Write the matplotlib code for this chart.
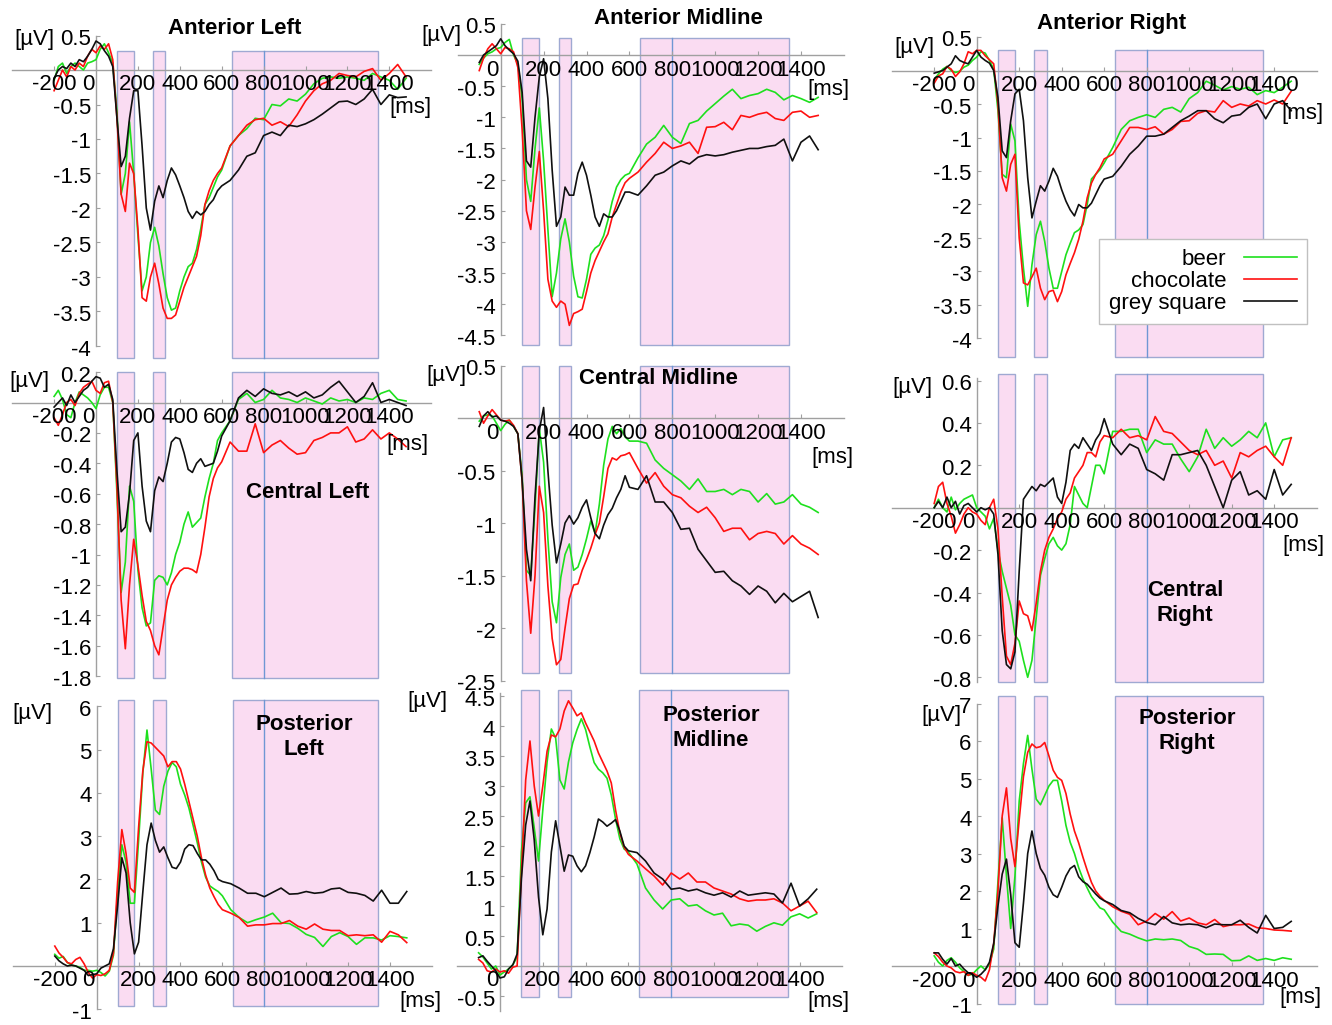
import matplotlib.pyplot as plt
import matplotlib.transforms as mtransforms
from matplotlib.patches import Rectangle

plt.rcParams['font.family'] = ['Liberation Sans', 'DejaVu Sans']

W, H = 1332, 1025
GREEN, RED, BLACK = '#1ee01e', '#ff1010', '#101010'
PINK, EDGE, VLINE = '#fadcf2', '#9fa9d2', '#6f97d4'

# time points (ms): left/right sites start at -200, midline sites at -100
t_side = list(range(-200, 601, 20)) + list(range(640, 1481, 40))
t_mid = list(range(-100, 601, 20)) + list(range(640, 1481, 40))

# analysis windows (ms)
windows = [(100, 180), (270, 330), (650, 1345)]
vline_ms = 800

xt_side = [-200, 0, 200, 400, 600, 800, 1000, 1200, 1400]
xt_mid = [0, 200, 400, 600, 800, 1000, 1200, 1400]

labels = ['beer', 'chocolate', 'grey square']

# ---------------- Anterior Left ----------------
AL_beer = [-0.15, 0.05, 0.1, -0.05, 0.05, 0.1, 0.05, 0.0, 0.1, 0.12,
           0.15, 0.3, 0.38, 0.25, 0.1, -0.6, -1.8, -1.5, -0.75, -1.5,
           -2.4, -3.2, -3.0, -2.5, -2.28, -2.55, -2.95, -3.3, -3.48, -3.45,
           -3.2, -3.0, -2.85, -2.8, -2.6, -2.3, -1.95, -1.85, -1.7, -1.55,
           -1.45,
           -1.1, -0.95, -0.85, -0.7, -0.72, -0.5, -0.52, -0.42, -0.45, -0.35, -0.2,
           -0.12, -0.1, -0.12, -0.1, -0.12, -0.15, -0.05, -0.1, -0.15, -0.28, -0.12]
AL_choc = [-0.3, -0.15, 0.0, -0.1, 0.05, 0.0, 0.1, 0.05, 0.2, 0.3,
           0.25, 0.35, 0.3, 0.38, 0.15, -0.7, -1.8, -2.05, -1.35, -1.5,
           -2.3, -3.3, -3.35, -3.0, -2.8, -3.1, -3.45, -3.6, -3.6, -3.55,
           -3.35, -3.15, -3.0, -2.85, -2.7, -2.4, -1.95, -1.75, -1.6, -1.5,
           -1.42,
           -1.1, -0.95, -0.8, -0.72, -0.7, -0.8, -0.75, -0.82, -0.65, -0.45, -0.3,
           -0.2, -0.15, -0.05, -0.08, -0.1, -0.02, 0.02, -0.15, -0.05, 0.08, -0.1]
AL_grey = [-0.12, 0.0, 0.05, 0.02, 0.1, 0.05, 0.15, 0.12, 0.2, 0.3,
           0.42, 0.38, 0.28, 0.2, 0.05, -0.7, -1.4, -1.25, -0.7, -0.3,
           -0.3, -1.1, -2.0, -2.32, -1.9, -1.68, -1.85, -1.6, -1.42, -1.52,
           -1.68, -1.85, -2.05, -2.15, -2.05, -2.1, -2.05, -1.95, -1.88, -1.75,
           -1.68,
           -1.6, -1.45, -1.25, -1.2, -0.95, -0.9, -0.95, -0.8, -0.82, -0.78, -0.72,
           -0.64, -0.55, -0.46, -0.45, -0.5, -0.42, -0.28, -0.5, -0.36, -0.4, -0.39]

# ---------------- Anterior Midline ----------------
AM_beer = [-0.15, -0.05, 0.02, 0.05, 0.1,
           0.12, 0.2, 0.25, 0.0, -0.15, -0.7, -2.0, -2.35, -1.5, -0.85,
           -1.7, -2.8, -3.88, -3.5, -2.95, -2.63, -3.0, -3.55, -3.88, -3.9,
           -3.6, -3.2, -3.1, -3.05, -2.9, -2.65, -2.35, -2.12, -2.0, -1.93,
           -1.9,
           -1.65, -1.43, -1.32, -1.13, -1.32, -1.42, -1.1, -1.05, -0.9, -0.78, -0.66,
           -0.55, -0.7, -0.65, -0.62, -0.55, -0.6, -0.72, -0.65, -0.7, -0.76, -0.68]
AM_choc = [-0.25, -0.05, 0.1, 0.18, 0.1,
           0.02, 0.12, 0.1, 0.05, -0.2, -1.2, -2.5, -2.8, -2.12, -1.55,
           -2.5, -3.6, -3.95, -4.05, -3.95, -4.0, -4.34, -4.15, -4.12, -4.08,
           -3.8, -3.5, -3.3, -3.15, -3.0, -2.87, -2.6, -2.4, -2.2, -2.05,
           -1.98,
           -1.88, -1.72, -1.58, -1.4, -1.5, -1.46, -1.4, -1.58, -1.16, -1.15, -1.08,
           -1.2, -0.97, -1.0, -0.95, -0.92, -1.02, -1.05, -0.92, -0.9, -1.0, -0.97]
AM_grey = [-0.12, 0.0, 0.05, 0.1, 0.15,
           0.26, 0.15, 0.08, 0.02, -0.1, -0.6, -1.7, -1.8, -1.0, -0.35,
           -0.06, -0.7, -1.85, -2.75, -2.6, -2.12, -2.25, -2.25, -1.9, -1.72,
           -1.93, -2.25, -2.6, -2.75, -2.55, -2.6, -2.6, -2.5, -2.35, -2.2,
           -2.2,
           -2.25, -2.1, -1.93, -1.88, -1.78, -1.7, -1.75, -1.64, -1.6, -1.62, -1.6,
           -1.56, -1.53, -1.5, -1.5, -1.47, -1.45, -1.35, -1.7, -1.4, -1.3, -1.52]

# ---------------- Anterior Right ----------------
AR_beer = [-0.14, -0.05, 0.02, 0.06, 0.0, -0.03, -0.01, 0.05, 0.08, 0.15,
           0.2, 0.28, 0.26, 0.15, 0.02, -0.6, -1.55, -1.6, -0.8, -1.05,
           -2.25, -2.95, -3.52, -2.9, -2.45, -2.25, -2.55, -2.95, -3.25, -3.25,
           -3.0, -2.75, -2.58, -2.42, -2.38, -2.3, -2.0, -1.62, -1.55, -1.48,
           -1.38,
           -1.15, -0.88, -0.75, -0.7, -0.66, -0.7, -0.58, -0.55, -0.62, -0.42, -0.33,
           -0.16, -0.22, -0.29, -0.24, -0.28, -0.25, -0.36, -0.3, -0.33, -0.25, -0.16]
AR_choc = [-0.19, -0.08, -0.05, 0.06, 0.02, -0.09, -0.02, 0.1, 0.28, 0.25,
           0.3, 0.3, 0.22, 0.16, 0.1, -0.5, -1.6, -1.8, -1.4, -1.25,
           -2.5, -3.17, -3.2, -3.08, -2.95, -3.25, -3.42, -3.3, -3.28, -3.45,
           -3.3, -3.05, -2.88, -2.72, -2.52, -2.25, -1.9, -1.68, -1.55, -1.45,
           -1.32,
           -1.25, -1.05, -0.85, -0.85, -0.88, -0.84, -0.95, -0.88, -0.76, -0.75, -0.64,
           -0.6, -0.62, -0.45, -0.55, -0.5, -0.53, -0.45, -0.5, -0.44, -0.5, -0.31]
AR_grey = [-0.04, -0.02, 0.0, 0.05, 0.1, 0.22, 0.15, 0.12, 0.1, 0.2,
           0.3, 0.2, 0.15, 0.11, 0.0, -0.4, -1.2, -1.3, -0.75, -0.35,
           -0.28, -0.75, -1.6, -2.2, -1.95, -1.72, -1.8, -1.65, -1.46, -1.58,
           -1.78, -1.95, -2.08, -2.17, -2.0, -2.05, -2.05, -1.98, -1.85, -1.72,
           -1.62,
           -1.58, -1.43, -1.25, -1.13, -0.98, -0.98, -0.95, -0.85, -0.75, -0.68, -0.6,
           -0.6, -0.72, -0.78, -0.68, -0.66, -0.55, -0.5, -0.72, -0.5, -0.45, -0.6]

# ---------------- Central Left ----------------
CL_beer = [0.04, 0.08, 0.02, -0.08, -0.1, 0.0, 0.07, 0.05, 0.03, 0.0,
           -0.04, 0.05, 0.1, 0.1, 0.0, -0.6, -1.25, -1.05, -0.55, -0.65,
           -1.1, -1.35, -1.47, -1.45, -1.17, -1.14, -1.15, -1.2, -1.12, -1.0,
           -0.92, -0.8, -0.72, -0.82, -0.79, -0.76, -0.62, -0.5, -0.4, -0.25,
           -0.2,
           -0.12, 0.02, 0.06, 0.0, 0.02, 0.08, 0.03, 0.02, 0.0, 0.03, 0.01,
           -0.01, 0.03, 0.01, 0.02, 0.0, 0.03, 0.02, 0.06, 0.08, 0.02, 0.01]
CL_choc = [-0.1, -0.15, -0.08, 0.0, 0.02, -0.02, 0.06, 0.1, 0.12, 0.14,
           0.08, 0.06, 0.13, 0.14, 0.0, -0.55, -1.3, -1.62, -1.2, -0.9,
           -1.07, -1.27, -1.44, -1.5, -1.6, -1.66, -1.48, -1.3, -1.2, -1.15,
           -1.11, -1.09, -1.09, -1.1, -1.12, -1.0, -0.82, -0.62, -0.5, -0.43,
           -0.39,
           -0.26, -0.32, -0.32, -0.14, -0.33, -0.28, -0.25, -0.3, -0.34, -0.33, -0.25,
           -0.23, -0.2, -0.2, -0.16, -0.26, -0.24, -0.18, -0.24, -0.2, -0.24, -0.29]
CL_grey = [-0.03, 0.0, 0.03, -0.02, 0.05, 0.0, 0.04, 0.08, 0.1, 0.14,
           0.17, 0.16, 0.1, 0.12, 0.02, -0.45, -0.85, -0.82, -0.6, -0.25,
           -0.2, -0.55, -0.78, -0.85, -0.58, -0.49, -0.52, -0.4, -0.26, -0.23,
           -0.24, -0.33, -0.44, -0.46, -0.4, -0.37, -0.42, -0.41, -0.4, -0.32,
           -0.22,
           -0.12, 0.03, 0.08, 0.04, 0.09, 0.06, 0.05, 0.07, 0.04, 0.07, 0.03,
           0.05, 0.1, 0.14, 0.07, 0.0, 0.04, 0.13, 0.0, 0.02, 0.0, -0.02]

# ---------------- Central Midline ----------------
CM_beer = [-0.03, 0.02, 0.03, 0.02, -0.05,
           -0.12, -0.06, -0.02, -0.08, -0.15, -0.55, -1.45, -1.5, -0.85, -0.1,
           -0.42, -1.15, -1.75, -1.95, -1.52, -1.3, -1.2, -1.45, -1.42, -1.3,
           -1.15, -0.98, -1.1, -0.82, -0.45, -0.2, -0.08, -0.15, -0.1, -0.18,
           -0.22,
           -0.22, -0.24, -0.4, -0.48, -0.54, -0.6, -0.68, -0.58, -0.7, -0.7, -0.68,
           -0.73, -0.68, -0.7, -0.8, -0.72, -0.82, -0.8, -0.73, -0.82, -0.85, -0.9]
CM_choc = [0.06, -0.05, 0.02, 0.08, 0.03,
           -0.02, -0.03, -0.02, -0.07, -0.15, -0.6, -1.55, -2.05, -1.5, -0.65,
           -0.9, -1.6, -2.1, -2.35, -2.3, -2.0, -1.72, -1.59, -1.58, -1.45,
           -1.35, -1.24, -1.11, -1.0, -0.75, -0.48, -0.38, -0.4, -0.36, -0.35,
           -0.33,
           -0.48, -0.62, -0.52, -0.65, -0.73, -0.76, -0.84, -0.9, -0.85, -0.95, -1.08,
           -1.05, -1.05, -1.16, -1.1, -1.08, -1.1, -1.2, -1.12, -1.2, -1.24, -1.3]
CM_grey = [-0.08, 0.02, 0.06, 0.01, 0.02,
           -0.02, -0.03, -0.05, -0.08, -0.15, -0.6, -1.25, -1.55, -0.75, -0.12,
           0.1, -0.5, -1.02, -1.38, -1.2, -1.0, -0.93, -1.01, -0.95, -0.85,
           -0.78, -0.95, -1.1, -1.15, -1.02, -0.92, -0.86, -0.76, -0.68, -0.55,
           -0.66,
           -0.68, -0.55, -0.8, -0.8, -0.9, -1.06, -1.05, -1.25, -1.36, -1.47, -1.46,
           -1.55, -1.6, -1.68, -1.6, -1.65, -1.76, -1.67, -1.75, -1.7, -1.65, -1.9]

# ---------------- Central Right ----------------
CR_beer = [0.0, 0.04, 0.0, -0.02, 0.05, -0.01, 0.02, 0.04, 0.05, 0.06,
           0.0, -0.02, -0.04, -0.1, -0.05, -0.2, -0.3, -0.38, -0.46, -0.6,
           -0.63, -0.72, -0.8, -0.72, -0.52, -0.32, -0.24, -0.17, -0.14, -0.18,
           -0.2, -0.17, -0.08, 0.1, 0.06, 0.02, 0.0, 0.1, 0.2, 0.2,
           0.16,
           0.36, 0.36, 0.37, 0.37, 0.26, 0.32, 0.3, 0.3, 0.23, 0.17, 0.24,
           0.37, 0.28, 0.33, 0.29, 0.32, 0.36, 0.33, 0.4, 0.24, 0.32, 0.33]
CR_choc = [0.02, 0.1, 0.12, 0.02, -0.04, -0.12, -0.08, -0.03, 0.0, -0.02,
           -0.03, -0.06, -0.08, 0.0, 0.04, -0.1, -0.42, -0.7, -0.74, -0.64,
           -0.44, -0.5, -0.51, -0.58, -0.45, -0.3, -0.2, -0.14, -0.1, -0.05,
           -0.02, 0.04, 0.07, 0.14, 0.17, 0.2, 0.26, 0.26, 0.24, 0.31,
           0.34,
           0.33, 0.37, 0.33, 0.34, 0.32, 0.43, 0.36, 0.35, 0.31, 0.27, 0.25,
           0.27, 0.2, 0.22, 0.14, 0.26, 0.24, 0.27, 0.29, 0.24, 0.2, 0.33]
CR_grey = [0.0, 0.03, 0.0, 0.05, 0.0, 0.03, -0.03, 0.01, 0.02, 0.0,
           -0.02, 0.0, -0.01, 0.0, -0.03, -0.22, -0.58, -0.74, -0.76, -0.68,
           -0.3, 0.04, 0.07, 0.1, 0.08, 0.11, 0.1, 0.12, 0.14, 0.05,
           0.02, 0.12, 0.27, 0.3, 0.28, 0.33, 0.3, 0.27, 0.32, 0.35,
           0.42,
           0.3, 0.25, 0.3, 0.28, 0.18, 0.16, 0.13, 0.25, 0.25, 0.26, 0.27,
           0.2, 0.1, 0.0, 0.13, 0.17, 0.06, 0.08, 0.04, 0.18, 0.06, 0.11]

# ---------------- Posterior Left ----------------
PL_beer = [0.27, 0.18, 0.22, 0.08, 0.02, 0.0, -0.03, -0.1, -0.1, -0.12,
           -0.1, -0.15, -0.23, -0.12, 0.25, 1.7, 2.8, 2.4, 1.45, 1.45,
           2.9, 4.45, 5.45, 4.55, 3.6, 3.5, 4.15, 4.5, 4.7, 4.6,
           4.2, 3.95, 3.65, 3.25, 2.85, 2.4, 2.05, 1.85, 1.78, 1.72,
           1.62,
           1.3, 1.12, 1.0, 1.07, 1.13, 1.22, 1.0, 0.98, 0.87, 0.73, 0.66,
           0.45, 0.68, 0.77, 0.68, 0.5, 0.65, 0.65, 0.6, 0.7, 0.68, 0.65]
PL_choc = [0.46, 0.3, 0.2, 0.08, 0.05, 0.15, 0.2, 0.05, -0.15, -0.28,
           -0.2, -0.22, -0.18, -0.1, 0.3, 1.95, 3.15, 2.6, 1.8, 1.7,
           3.2, 4.5, 5.18, 5.15, 5.05, 4.95, 4.85, 4.6, 4.72, 4.72,
           4.55, 4.2, 3.8, 3.4, 3.0, 2.5, 2.1, 1.8, 1.6, 1.42,
           1.3,
           1.22, 1.12, 0.92, 0.95, 0.95, 0.98, 0.98, 1.05, 0.92, 0.85, 0.97,
           0.85, 0.82, 0.82, 0.7, 0.72, 0.7, 0.72, 0.55, 0.8, 0.72, 0.54]
PL_grey = [0.23, 0.12, 0.05, 0.0, 0.02, 0.0, -0.05, -0.1, -0.22, -0.2,
           -0.18, -0.05, 0.0, 0.05, 0.4, 1.4, 2.5, 2.15, 1.0, 0.28,
           0.55, 1.7, 2.8, 3.3, 2.9, 2.63, 2.75, 2.5, 2.28, 2.25,
           2.4, 2.7, 2.8, 2.78, 2.6, 2.45, 2.45, 2.35, 2.2, 2.0,
           1.95,
           1.9, 1.8, 1.68, 1.68, 1.6, 1.7, 1.8, 1.66, 1.67, 1.72, 1.68,
           1.7, 1.78, 1.8, 1.7, 1.68, 1.63, 1.5, 1.75, 1.45, 1.45, 1.72]

# ---------------- Posterior Midline ----------------
PM_beer = [0.22, 0.15, 0.05, -0.05, 0.0,
           -0.15, -0.1, -0.05, 0.02, 0.15, 1.9, 2.72, 2.82, 2.3, 1.75,
           2.6, 3.4, 3.95, 3.8, 3.1, 2.95, 3.4, 3.72, 3.94, 4.12,
           3.94, 3.65, 3.39, 3.28, 3.22, 3.13, 2.85, 2.45, 2.12, 1.95,
           1.9,
           1.7, 1.3, 1.1, 0.95, 1.1, 1.12, 1.0, 1.02, 0.92, 0.85, 0.88,
           0.67, 0.7, 0.68, 0.58, 0.66, 0.72, 0.68, 0.82, 0.87, 0.8, 0.87]
PM_choc = [0.11, 0.05, -0.08, -0.1, -0.05,
           -0.1, -0.08, -0.12, -0.02, 0.0, 1.55, 3.1, 3.75, 3.0, 2.5,
           3.0, 3.58, 3.85, 3.82, 3.95, 4.25, 4.42, 4.3, 4.17, 4.22,
           4.05, 3.9, 3.75, 3.55, 3.4, 3.25, 3.05, 2.6, 2.22, 1.98,
           1.86,
           1.75, 1.62, 1.5, 1.35, 1.55, 1.45, 1.55, 1.4, 1.4, 1.3, 1.25,
           1.2, 1.12, 1.08, 1.1, 1.1, 1.12, 1.05, 0.92, 1.0, 1.08, 0.89]
PM_grey = [0.14, 0.17, 0.08, 0.0, -0.08,
           -0.2, -0.18, -0.05, 0.02, 0.2, 1.45, 2.35, 2.75, 2.1, 1.15,
           0.52, 0.95, 1.9, 2.42, 2.0, 1.58, 1.85, 1.83, 1.67, 1.57,
           1.67, 1.89, 2.15, 2.45, 2.4, 2.33, 2.38, 2.44, 2.25, 2.0,
           1.92,
           1.89, 1.75, 1.55, 1.45, 1.28, 1.3, 1.25, 1.28, 1.22, 1.18, 1.22,
           1.15, 1.25, 1.18, 1.2, 1.22, 1.2, 1.05, 1.38, 1.0, 1.12, 1.28]

# ---------------- Posterior Right ----------------
PR_beer = [0.27, 0.1, 0.0, 0.15, 0.22, 0.1, -0.05, -0.15, -0.25, -0.22,
           -0.1, 0.0, -0.1, 0.05, 0.45, 2.25, 3.95, 2.4, 1.0, 2.4,
           4.4, 5.4, 6.15, 5.25, 4.45, 4.3, 4.55, 4.8, 4.95, 4.95,
           4.4, 3.75, 3.3, 3.0, 2.62, 2.32, 2.08, 1.85, 1.7, 1.55,
           1.5,
           1.17, 0.92, 0.85, 0.75, 0.67, 0.72, 0.7, 0.72, 0.68, 0.52, 0.45,
           0.31, 0.32, 0.31, 0.14, 0.15, 0.27, 0.15, 0.2, 0.15, 0.22, 0.18]
PR_choc = [0.35, 0.25, 0.1, 0.0, -0.05, -0.15, -0.18, -0.15, -0.25, -0.18,
           -0.25, -0.3, -0.4, -0.1, 0.6, 2.0, 4.0, 4.75, 3.4, 2.65,
           3.9, 5.05, 5.7, 5.92, 5.82, 5.85, 5.96, 5.6, 5.22, 5.03,
           4.95, 4.6, 4.05, 3.6, 3.28, 2.9, 2.55, 2.23, 2.0, 1.86,
           1.75,
           1.58, 1.46, 1.38, 1.1, 1.2, 1.4, 1.25, 1.45, 1.2, 1.28, 1.15,
           1.1, 1.24, 1.05, 1.1, 1.1, 1.12, 1.02, 1.0, 0.96, 0.95, 0.93]
PR_grey = [0.35, 0.35, 0.18, 0.05, 0.2, 0.0, 0.05, -0.08, -0.18, -0.22,
           -0.3, -0.22, -0.1, 0.1, 0.6, 1.6, 2.45, 2.85, 1.9, 0.62,
           0.5, 1.68, 3.0, 3.6, 3.0, 2.6, 2.42, 2.1, 1.9, 1.83,
           2.1, 2.4, 2.6, 2.68, 2.38, 2.25, 2.18, 2.05, 1.92, 1.81,
           1.74,
           1.64, 1.48, 1.42, 1.27, 1.16, 1.1, 1.32, 1.15, 1.1, 1.12, 1.1,
           1.02, 1.12, 1.1, 1.1, 1.22, 1.03, 0.88, 1.35, 1.0, 1.03, 1.19]

# panel layout: pixel position of (0 ms, 0 uV) and scale in px per ms / px per uV
panels = [
    dict(t=t_side, d=(AL_beer, AL_choc, AL_grey), x0=96, sx=0.2095, y0=70, sy=69,
         yt=[0.5, -0.5, -1, -1.5, -2, -2.5, -3, -3.5, -4], yb=(-4, 0.5), box=(-4.17, 0.27),
         xt=xt_side, xb=(-400, 1600), title=('Anterior Left', 235, 29), uv=(34, 40), ms=(410, 107)),
    dict(t=t_mid, d=(AM_beer, AM_choc, AM_grey), x0=500.7, sx=0.2145, y0=55, sy=62.3,
         yt=[0.5, -0.5, -1, -1.5, -2, -2.5, -3, -3.5, -4, -4.5], yb=(-4.5, 0.5), box=(-4.65, 0.27),
         xt=xt_mid, xb=(-200, 1600), title=('Anterior Midline', 678, 18), uv=(441, 35), ms=(828, 90)),
    dict(t=t_side, d=(AR_beer, AR_choc, AR_grey), x0=976.7, sx=0.2125, y0=70.5, sy=67,
         yt=[0.5, -0.5, -1, -1.5, -2, -2.5, -3, -3.5, -4], yb=(-4, 0.5), box=(-4.28, 0.31),
         xt=xt_side, xb=(-400, 1600), title=('Anterior Right', 1112, 23), uv=(914, 47), ms=(1302, 113)),
    dict(t=t_side, d=(CL_beer, CL_choc, CL_grey), x0=96, sx=0.2095, y0=402.5, sy=152,
         yt=[0.2, -0.2, -0.4, -0.6, -0.8, -1, -1.2, -1.4, -1.6, -1.8], yb=(-1.8, 0.2), box=(-1.81, 0.2),
         xt=xt_side, xb=(-400, 1600), title=('Central Left', 308, 492), uv=(29, 382), ms=(407, 445)),
    dict(t=t_mid, d=(CM_beer, CM_choc, CM_grey), x0=500.7, sx=0.2145, y0=418, sy=105,
         yt=[0.5, -0.5, -1, -1.5, -2, -2.5], yb=(-2.5, 0.5), box=(-2.43, 0.5),
         xt=xt_mid, xb=(-200, 1600), title=('Central Midline', 658, 378), uv=(446, 375), ms=(832, 457)),
    dict(t=t_side, d=(CR_beer, CR_choc, CR_grey), x0=976.7, sx=0.2125, y0=507.7, sy=212,
         yt=[0.6, 0.4, 0.2, -0.2, -0.4, -0.6, -0.8], yb=(-0.82, 0.61), box=(-0.82, 0.63),
         xt=xt_side, xb=(-400, 1600), title=('Central\nRight', 1185, 603), uv=(912, 388), ms=(1303, 545)),
    dict(t=t_side, d=(PL_beer, PL_choc, PL_grey), x0=96.7, sx=0.2095, y0=966, sy=43.3,
         yt=[6, 5, 4, 3, 2, 1, -1], yb=(-1, 6), box=(-0.92, 6.15),
         xt=xt_side, xb=(-400, 1600), title=('Posterior\nLeft', 304, 737), uv=(32, 713), ms=(420, 1002)),
    dict(t=t_mid, d=(PM_beer, PM_choc, PM_grey), x0=500, sx=0.214, y0=966, sy=60,
         yt=[4.5, 4, 3.5, 3, 2.5, 2, 1.5, 1, 0.5, -0.5], yb=(-0.75, 4.55), box=(-0.51, 4.6),
         xt=xt_mid, xb=(-200, 1600), title=('Posterior\nMidline', 711, 728), uv=(427, 702), ms=(828, 1002)),
    dict(t=t_side, d=(PR_beer, PR_choc, PR_grey), x0=976.7, sx=0.2125, y0=966, sy=37.5,
         yt=[7, 6, 5, 4, 3, 2, 1, -1], yb=(-1, 7), box=(-1.0, 7.19),
         xt=xt_side, xb=(-400, 1600), title=('Posterior\nRight', 1187, 731), uv=(941, 715), ms=(1300, 998)),
]

fig = plt.figure(figsize=(W / 100, H / 100), dpi=100)


def shift(dx, dy):
    return mtransforms.ScaledTranslation(dx / 100, dy / 100, fig.dpi_scale_trans)


legend_lines = None
for i, p in enumerate(panels):
    lo = min(p['box'][0], p['yb'][0])
    hi = max(p['box'][1], p['yb'][1])
    pad = 0.05 * (hi - lo)
    ylim = (lo - pad, hi + pad)
    xlim = (-450, 1650)
    L = p['x0'] + p['sx'] * xlim[0]
    R = p['x0'] + p['sx'] * xlim[1]
    T = p['y0'] - p['sy'] * ylim[1]
    B = p['y0'] - p['sy'] * ylim[0]
    ax = fig.add_axes([L / W, 1 - B / H, (R - L) / W, (B - T) / H])
    ax.set_xlim(xlim)
    ax.set_ylim(ylim)
    ax.patch.set_visible(False)

    # windows
    blo, bhi = p['box']
    for a, b in windows:
        ax.add_patch(Rectangle((a, blo), b - a, bhi - blo, facecolor=PINK,
                               edgecolor=EDGE, lw=1, zorder=1))
    ax.plot([vline_ms, vline_ms], [blo, bhi], color=VLINE, lw=1, zorder=1.5)

    # axes through the origin
    for s in ['top', 'right']:
        ax.spines[s].set_visible(False)
    ax.spines['left'].set_position(('data', 0))
    ax.spines['bottom'].set_position(('data', 0))
    ax.spines['left'].set_bounds(*p['yb'])
    ax.spines['bottom'].set_bounds(*p['xb'])
    for s in ['left', 'bottom']:
        ax.spines[s].set_color('#a0a0a0')
        ax.spines[s].set_linewidth(1)
        ax.spines[s].set_zorder(2)
    ax.set_xticks(p['xt'])
    ax.set_yticks(p['yt'])
    ax.tick_params(labelbottom=False, labelleft=False, direction='in',
                   length=3, color='#a0a0a0')

    for v in p['xt']:
        dx = -8 if v == 0 else 0
        ax.text(v, 0, str(v), transform=ax.transData + shift(dx, -15),
                ha='center', va='center', fontsize=16, zorder=4)
    for v in p['yt']:
        ax.text(0, v, '%g' % v, transform=ax.transData + shift(-5, -4),
                ha='right', va='center', fontsize=16, zorder=4)

    lines = []
    for y, c in zip(p['d'], [GREEN, RED, BLACK]):
        ln, = ax.plot(p['t'], y, color=c, lw=1.2, zorder=3)
        lines.append(ln)
    if i == 2:
        legend_lines = lines

    s, tx, ty = p['title']
    fig.text(tx / W, 1 - ty / H, s, ha='center', va='center', fontsize=16,
             fontweight='bold', linespacing=1.2)
    fig.text(p['uv'][0] / W, 1 - p['uv'][1] / H, '[µV]', ha='center', va='center', fontsize=16)
    fig.text(p['ms'][0] / W, 1 - p['ms'][1] / H, '[ms]', ha='center', va='center', fontsize=16)

leg = fig.legend(legend_lines, labels, loc='upper left',
                 bbox_to_anchor=(1099 / W, 1 - 239 / H), markerfirst=False,
                 frameon=True, fancybox=False, edgecolor='#c0c0c0', framealpha=1,
                 fontsize=16, handlelength=2.4, handletextpad=0.8,
                 labelspacing=0.05, borderpad=0.45, borderaxespad=0)
leg.get_frame().set_linewidth(1)

fig.savefig('out.png', dpi=100)
